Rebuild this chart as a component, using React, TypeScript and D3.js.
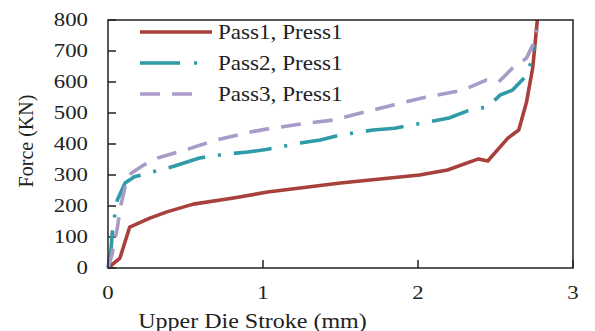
import React from "react";
import * as d3 from "d3";

const pass1X = [0, 0.077, 0.14, 0.27, 0.38, 0.55, 0.81, 1.03, 1.5, 2.01, 2.19, 2.39, 2.45, 2.58, 2.65, 2.7, 2.74, 2.77];
const pass1Y = [0, 32, 132, 161, 181, 206, 226, 245, 274, 300, 316, 352, 345, 419, 445, 535, 645, 800];

const pass2X = [0, 0.02, 0.03, 0.06, 0.11, 0.17, 0.29, 0.43, 0.59, 0.75, 0.9, 1.02, 1.24, 1.37, 1.5, 1.71, 1.85, 2.01, 2.2, 2.32, 2.45, 2.53, 2.61, 2.69, 2.73, 2.75];
const pass2Y = [0, 60, 130, 219, 274, 294, 310, 329, 355, 367, 374, 382, 403, 413, 429, 445, 451, 466, 484, 507, 520, 558, 574, 616, 664, 719];

const pass3X = [0, 0.025, 0.06, 0.08, 0.11, 0.15, 0.23, 0.32, 0.5, 0.69, 0.92, 1.02, 1.28, 1.45, 1.63, 1.84, 2.04, 2.29, 2.44, 2.52, 2.61, 2.7, 2.74, 2.77];
const pass3Y = [0, 42, 129, 197, 261, 306, 332, 355, 381, 412, 439, 448, 467, 477, 500, 526, 550, 574, 606, 600, 645, 677, 719, 768];

const seriesNames = ["Pass1, Press1", "Pass2, Press1", "Pass3, Press1"];
const xTicks = [0, 1, 2, 3];
const yTicks = [0, 100, 200, 300, 400, 500, 600, 700, 800];

const colors = ["#A8403C", "#2F9AA8", "#A89BC8"];
const dashes = ["none", "38 13 3 13", "20 12"];
const legendEnds = [212, 200, 193];

export default function App() {
  const W = 595, H = 331;
  const left = 108, right = 573, top = 20, bottom = 268;
  const x = d3.scaleLinear().domain([0, 3]).range([left, right]);
  const y = d3.scaleLinear().domain([0, 800]).range([bottom, top]);
  const line = d3.line<[number, number]>().x(d => x(d[0])).y(d => y(d[1]));
  const data = [
    pass1X.map((v, i) => [v, pass1Y[i]] as [number, number]),
    pass2X.map((v, i) => [v, pass2Y[i]] as [number, number]),
    pass3X.map((v, i) => [v, pass3Y[i]] as [number, number]),
  ];
  const font = "'Liberation Serif', 'Times New Roman', serif";
  const legendRows = [32, 63, 94];
  return (
    <svg width={W} height={H} style={{ position: "absolute", left: 0, top: 0, background: "#fff" }}>
      <rect x={0} y={0} width={W} height={H} fill="#fff" />
      {yTicks.map(t => (
        <g key={"y" + t}>
          <line x1={left} x2={left + 8} y1={y(t)} y2={y(t)} stroke="#222" strokeWidth={1.5} />
          <text transform={`translate(${left - 20},${y(t)}) scale(1.2,1)`} textAnchor="end" dominantBaseline="central"
            fontFamily={font} fontSize={19} fill="#222">{t}</text>
        </g>
      ))}
      {xTicks.map(t => (
        <g key={"x" + t}>
          <line x1={x(t)} x2={x(t)} y1={bottom} y2={bottom - 8} stroke="#222" strokeWidth={1.5} />
          <text transform={`translate(${x(t)},${bottom + 25}) scale(1.2,1)`} textAnchor="middle" dominantBaseline="central"
            fontFamily={font} fontSize={19} fill="#222">{t}</text>
        </g>
      ))}
      {data.map((d, i) => (
        <path key={i} d={line(d) || ""} fill="none" stroke={colors[i]} strokeWidth={3.6}
          strokeDasharray={dashes[i]} strokeLinejoin="round" />
      ))}
      <rect x={left} y={top} width={right - left} height={bottom - top} fill="none" stroke="#222" strokeWidth={1.5} />
      {seriesNames.map((n, i) => (
        <g key={n}>
          <line x1={140} x2={legendEnds[i]} y1={legendRows[i]} y2={legendRows[i]} stroke={colors[i]} strokeWidth={3.6}
            strokeDasharray={i === 1 ? "40 14 3 14" : dashes[i]} />
          <text transform={`translate(218,${legendRows[i]}) scale(1.1,1)`} dominantBaseline="central"
            fontFamily={font} fontSize={21} fill="#222">{n}</text>
        </g>
      ))}
      <text transform={`translate(${(left + right) / 2 - 88},321) scale(1.2,1)`} textAnchor="middle" dominantBaseline="central"
        fontFamily={font} fontSize={20} fill="#222">Upper Die Stroke (mm)</text>
      <text transform={`translate(26,141) rotate(-90)`} textAnchor="middle" dominantBaseline="central"
        fontFamily={font} fontSize={20} fill="#222">Force (KN)</text>
    </svg>
  );
}
